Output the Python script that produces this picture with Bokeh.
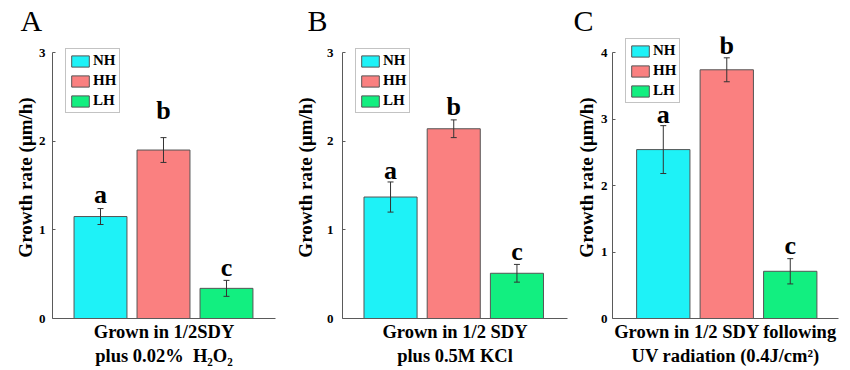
from bokeh.plotting import figure
from bokeh.models import ColumnDataSource, Whisker, TeeHead, Range1d, FixedTicker, Title
from bokeh.layouts import row
from bokeh.embed import file_html
from bokeh.resources import INLINE
from bokeh.core.properties import value

groups = ["NH", "HH", "LH"]
letters = ["a", "b", "c"]
bar_colors = ["#1EF2F7", "#FA8080", "#12EF80"]

a_mean = [1.15, 1.90, 0.34]
a_err = [0.09, 0.14, 0.09]
b_mean = [1.37, 2.14, 0.51]
b_err = [0.17, 0.10, 0.10]
c_mean = [2.54, 3.74, 0.71]
c_err = [0.36, 0.18, 0.19]

ticks_ab = [0, 1, 2, 3]
ticks_c = [0, 1, 2, 3, 4]

xlabel_a = "Grown in 1/2SDY\nplus 0.02%\u00a0 H\u2082O\u2082"
xlabel_b = "Grown in 1/2 SDY\nplus 0.5M KCl"
xlabel_c = "Grown in 1/2 SDY following\nUV radiation (0.4J/cm\u00b2)"
ylabel = "Growth rate (\u03bcm/h)"

FONT = "Liberation Serif"
AXIS_COLOR = "#5a5a5a"
FRAME_H = 282          # frame extends a little above the top tick
TICK_SPAN = 266        # pixels from 0 to the top tick


def panel(tag, means, errs, ticks, xlabel, xr, borders, frame_w,
          tick_standoff, label_standoff, letter_gap, legend_loc, tag_offset):
    xs = [1, 2, 3]
    src = ColumnDataSource(dict(
        x=xs, top=means, group=groups, color=bar_colors,
        upper=[m + e for m, e in zip(means, errs)],
        lower=[m - e for m, e in zip(means, errs)],
        letter=letters,
        yoff=[-g for g in letter_gap],
    ))
    ymax = ticks[-1]
    y_end = ymax * FRAME_H / TICK_SPAN
    p = figure(frame_width=frame_w, frame_height=FRAME_H,
               x_range=Range1d(*xr), y_range=Range1d(0, y_end),
               output_backend="svg", toolbar_location=None,
               min_border_left=borders[0], min_border_right=borders[1],
               min_border_top=36, min_border_bottom=44)
    p.outline_line_color = None
    p.xgrid.visible = False
    p.ygrid.visible = False
    p.background_fill_color = "white"

    p.title = Title(text=tag, align="left", offset=tag_offset, standoff=0,
                    text_font=FONT, text_font_size="30px",
                    text_font_style="normal", text_color="black")

    p.vbar(x="x", top="top", width=0.84, source=src, fill_color="color",
           line_color="#555555", line_width=1, legend_field="group")

    w = Whisker(base="x", upper="upper", lower="lower", source=src,
                line_color="#333333", line_width=1, level="overlay",
                upper_head=TeeHead(size=6, line_color="#333333", line_width=1),
                lower_head=TeeHead(size=6, line_color="#333333", line_width=1))
    p.add_layout(w)

    p.text(x="x", y="upper", text="letter", source=src, y_offset="yoff",
           text_align="center", text_baseline="alphabetic",
           text_font=value(FONT), text_font_style="bold",
           text_font_size="26px", text_color="black")

    ya = p.yaxis[0]
    ya.ticker = FixedTicker(ticks=ticks)
    ya.bounds = (0, ymax)
    ya.minor_tick_line_color = None
    ya.major_tick_in = 3
    ya.major_tick_out = 0
    ya.axis_line_color = AXIS_COLOR
    ya.major_tick_line_color = AXIS_COLOR
    ya.major_label_text_font = FONT
    ya.major_label_text_font_style = "bold"
    ya.major_label_text_font_size = "13px"
    ya.major_label_text_color = "black"
    ya.major_label_standoff = tick_standoff
    ya.axis_label = ylabel
    ya.axis_label_text_font = FONT
    ya.axis_label_text_font_style = "bold"
    ya.axis_label_text_font_size = "19px"
    ya.axis_label_text_color = "black"
    ya.axis_label_standoff = label_standoff

    xa = p.xaxis[0]
    xa.ticker = FixedTicker(ticks=[])
    xa.major_tick_in = 0
    xa.major_tick_out = 0
    xa.minor_tick_line_color = None
    xa.major_label_text_font_size = "0px"
    xa.axis_line_color = AXIS_COLOR
    xa.axis_label = xlabel
    xa.axis_label_text_font = FONT
    xa.axis_label_text_font_style = "bold"
    xa.axis_label_text_font_size = "18.5px"
    xa.axis_label_text_color = "black"
    xa.axis_label_standoff = 3

    lg = p.legend[0]
    lg.location = legend_loc
    lg.glyph_width = 22
    lg.glyph_height = 14
    lg.label_height = 14
    lg.spacing = 3
    lg.padding = 3
    lg.margin = 0
    lg.label_standoff = 2
    lg.label_text_font = FONT
    lg.label_text_font_style = "bold"
    lg.label_text_font_size = "15px"
    lg.label_text_color = "black"
    lg.border_line_color = "#888888"
    lg.border_line_width = 1
    lg.background_fill_alpha = 1.0
    return p


pa = panel("A", a_mean, a_err, ticks_ab, xlabel_a, (0.238, 3.778), (52, 15), 223,
           7, 0, [14, 27, 13], (13, 205), -32)
pb = panel("B", b_mean, b_err, ticks_ab, xlabel_b, (0.24, 3.80), (52, 5), 225,
           9, 8, [11, 13, 13], (13, 205), -35)
pc = panel("C", c_mean, c_err, ticks_c, xlabel_c, (0.20, 3.76), (40, 4), 226,
           5, 1, [11, 12, 13], (13, 215), -39)

layout = row(pa, pb, pc)
open("out.html", "w").write(file_html(layout, INLINE))
